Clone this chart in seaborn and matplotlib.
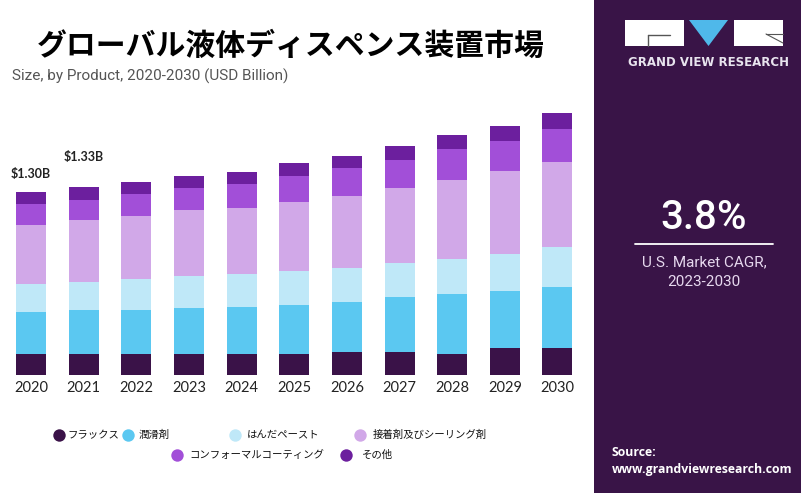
import numpy   as np
import pandas  as pd
import seaborn as sns
from matplotlib         import pyplot as plt
from matplotlib.patches import Rectangle, Polygon

sns.set_theme(style="white")
plt.rcParams['font.family'] = ['Noto Sans CJK JP', 'DejaVu Sans']

# --- data (USD Billion) ---------------------------------------------------
years    = ['2020','2021','2022','2023','2024','2025','2026','2027','2028','2029','2030']
products = ['フラックス','潤滑剤','はんだペースト','接着剤及びシーリング剤',
            'コンフォーマルコーティング','その他']

flux      = [0.147,0.147,0.147,0.147,0.147,0.147,0.163,0.163,0.147,0.189,0.189]
lubricant = [0.302,0.316,0.316,0.326,0.335,0.350,0.355,0.388,0.430,0.404,0.432]
solder    = [0.194,0.194,0.216,0.229,0.236,0.239,0.239,0.241,0.246,0.267,0.289]
adhesive  = [0.423,0.440,0.449,0.466,0.468,0.491,0.513,0.534,0.558,0.584,0.601]
conformal = [0.145,0.146,0.158,0.158,0.168,0.182,0.199,0.196,0.218,0.213,0.232]
others    = [0.089,0.088,0.081,0.083,0.085,0.094,0.085,0.104,0.106,0.108,0.116]

labels    = {'2020':'$1.30B', '2021':'$1.33B'}
colors    = ['#3a1248','#5bc8f1','#bfe8f8','#d1a8e8','#a24fd8','#6c1f9e']

df = pd.DataFrame({'year':years, 'フラックス':flux, '潤滑剤':lubricant,
                   'はんだペースト':solder, '接着剤及びシーリング剤':adhesive,
                   'コンフォーマルコーティング':conformal, 'その他':others})
long = df.melt(id_vars='year', var_name='product', value_name='value')
long['product'] = pd.Categorical(long['product'], categories=products, ordered=True)
long = long.sort_values(['year','product'])
long['cum'] = long.groupby('year')['value'].cumsum()

# --- figure -----------------------------------------------------------------
fig = plt.figure(figsize=(8.01,4.93), dpi=100)
W, H = 801, 493
ax  = fig.add_axes([0/W, (H-375)/H, 589/W, 275/H])

for prod, col in reversed(list(zip(products, colors))):
    sub = long[long['product']==prod]
    sns.barplot(data=sub, x='year', y='cum', order=years, color=col,
                saturation=1, width=0.57, errorbar=None, linewidth=0, ax=ax)

ax.set_xlim(-0.59, 10.6)
ax.set_ylim(0, 1.95)
ax.set_xlabel(''); ax.set_ylabel('')
ax.set_yticks([])
sns.despine(ax=ax, left=True, bottom=True)
ax.tick_params(axis='x', length=0, pad=4)
for t in ax.get_xticklabels():
    t.set_family(['Lato','DejaVu Sans']); t.set_fontsize(10.5); t.set_color('#222222')

totals = long.groupby('year')['value'].sum()
offs   = {'2020':12.5, '2021':22}
for i, y in enumerate(years):
    if y in labels:
        ax.annotate(labels[y], xy=(i, totals[y]), xytext=(0, offs[y]),
                    textcoords='offset points', ha='center', va='center',
                    fontsize=9, fontweight='bold', family=['Lato','DejaVu Sans'],
                    color='#222222')

# --- overlay: titles, legend, side panel ------------------------------------
ov = fig.add_axes([0,0,1,1], zorder=-1)
ov.set_xlim(0, W); ov.set_ylim(H, 0); ov.axis('off')

ov.text(291, 46, 'グローバル液体ディスペンス装置市場', ha='center', va='center',
        fontsize=21.5, fontweight='bold', color='#000000')
ov.text(12, 76, 'Size, by Product, 2020-2030 (USD Billion)', ha='left', va='center',
        fontsize=11, family=['Roboto','DejaVu Sans'], color='#555555')

leg_pos = [(59,435,67), (128,435,139), (235,435,247), (360,435,373),
           (177,455,189), (346,455,362)]
for (mx, my, tx), prod, col in zip(leg_pos, products, colors):
    ov.scatter([mx], [my], s=80, color=col, linewidths=0)
    ov.text(tx, my, prod, ha='left', va='center', fontsize=7.5, color='#111111')

# side panel
ov.add_patch(Rectangle((594,0), W-594, H, color='#391447', lw=0))
ov.add_patch(Rectangle((625,20), 59, 26, color='white', lw=0))
ov.add_patch(Polygon([(689,20),(728,20),(708.5,46)], closed=True, color='#4fb8ea', lw=0))
ov.add_patch(Rectangle((734,20), 49, 26, color='white', lw=0))
ov.plot([648,670], [35,35], color='#555555', lw=1)
ov.plot([648,648], [35,46], color='#555555', lw=1)
ov.plot([766,783], [34,34], color='#555555', lw=0.8)
ov.plot([766,783], [34,43], color='#555555', lw=0.8)
ov.text(709, 63, 'GRAND VIEW RESEARCH', ha='center', va='center', fontsize=8.5,
        fontweight='bold', family=['DejaVu Sans'], color='#e8e4ee')

ov.text(704, 218, '3.8%', ha='center', va='center', fontsize=29,
        fontweight='medium', family=['Roboto','DejaVu Sans'], color='white')
ov.plot([635,773], [244,244], color='white', lw=1.3)
ov.text(704, 262, 'U.S. Market CAGR,', ha='center', va='center', fontsize=11,
        family=['Roboto','DejaVu Sans'], color='#e6d8ee')
ov.text(704, 282, '2023-2030', ha='center', va='center', fontsize=11,
        family=['Roboto','DejaVu Sans'], color='#e6d8ee')

ov.text(612, 453, 'Source:', ha='left', va='center', fontsize=8.8,
        fontweight='bold', family=['Open Sans','DejaVu Sans'], color='white')
ov.text(612, 469, 'www.grandviewresearch.com', ha='left', va='center', fontsize=8.8,
        fontweight='bold', family=['Open Sans','DejaVu Sans'], color='white')

fig.savefig('out.png', dpi=100)
